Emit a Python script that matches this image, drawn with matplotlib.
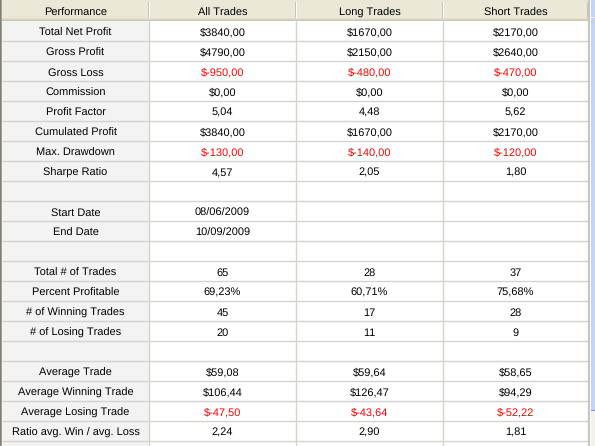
import matplotlib
matplotlib.use("Agg")
import matplotlib.pyplot as plt
from matplotlib.patches import Rectangle

plt.rcParams["text.hinting"] = "no_hinting"
plt.rcParams["text.hinting_factor"] = 1

W, H = 595, 446

headers = ["Performance", "All Trades", "Long Trades", "Short Trades"]
row_labels = ["Total Net Profit", "Gross Profit", "Gross Loss", "Commission", "Profit Factor",
              "Cumulated Profit", "Max. Drawdown", "Sharpe Ratio", "",
              "Start Date", "End Date", "",
              "Total # of Trades", "Percent Profitable", "# of Winning Trades", "# of Losing Trades", "",
              "Average Trade", "Average Winning Trade", "Average Losing Trade", "Ratio avg. Win / avg. Loss"]
all_trades = ["$3840,00", "$4790,00", "$-950,00", "$0,00", "5,04", "$3840,00", "$-130,00", "4,57", "",
              "08/06/2009", "10/09/2009", "",
              "65", "69,23%", "45", "20", "",
              "$59,08", "$106,44", "$-47,50", "2,24"]
long_trades = ["$1670,00", "$2150,00", "$-480,00", "$0,00", "4,48", "$1670,00", "$-140,00", "2,05", "",
               "", "", "",
               "28", "60,71%", "17", "11", "",
               "$59,64", "$126,47", "$-43,64", "2,90"]
short_trades = ["$2170,00", "$2640,00", "$-470,00", "$0,00", "5,62", "$2170,00", "$-120,00", "1,80", "",
                "", "", "",
                "37", "75,68%", "28", "9", "",
                "$58,65", "$94,29", "$-52,22", "1,81"]

col_edges = [2, 149, 296, 443, 588]
header_h = 21
row_h = 20

fig = plt.figure(figsize=(W / 100, H / 100), dpi=100)
ax = fig.add_axes([0, 0, 1, 1])
ax.set_xlim(0, W)
ax.set_ylim(H, 0)
ax.axis("off")

font = dict(family=["Liberation Sans", "DejaVu Sans"], fontsize=7.7)

def rect(x0, y0, x1, y1, color, z=1):
    ax.add_patch(Rectangle((x0, y0), x1 - x0, y1 - y0, facecolor=color, edgecolor="none",
                           linewidth=0, zorder=z))

# background
rect(0, 0, W, H, "#FFFFFF", 0)
# first column background
rect(col_edges[0], header_h, col_edges[1], H, "#F3F3F3", 1)
# header
rect(col_edges[0], 0, col_edges[-1], header_h, "#EBE8D8", 2)
rect(col_edges[0], header_h - 3, col_edges[-1], header_h - 2, "#E2DFCF", 3)
rect(col_edges[0], header_h - 2, col_edges[-1], header_h - 1, "#D6D2C2", 3)
rect(col_edges[0], header_h - 1, col_edges[-1], header_h, "#CBC7B8", 3)
for x in col_edges[1:]:
    rect(x - 1, 2, x, header_h - 3, "#C8C4B4", 3)
    rect(x, 2, x + 1, header_h - 3, "#FFFFFF", 3)

# grid lines
n_rows = len(row_labels)
for i in range(n_rows + 1):
    y = header_h + row_h * (i + 1) - 1
    ax.plot([col_edges[0], col_edges[-1]], [y + 0.5, y + 0.5], color="#D6D3CE", lw=1, zorder=4,
            solid_capstyle="butt")
for x in col_edges[1:]:
    ax.plot([x - 0.5, x - 0.5], [header_h, H], color="#D6D3CE", lw=1, zorder=4,
            solid_capstyle="butt")

# left border
rect(0, 0, 1, H, "#7F7D73", 5)
rect(1, 0, 2, H, "#A6A496", 5)

# scrollbar area
rect(588, 0, 590, H, "#C9C7BA", 5)
rect(590, 0, 591, H, "#FFFFFF", 5)
rect(591, 0, W, H, "#F3F1EC", 5)
rect(591, 0, W, 17, "#C3D4FC", 6)
rect(591, 18, W, 410, "#C1D3FB", 6)
rect(591, 410, W, 411, "#7F9DB9", 6)

# header text
for j, h in enumerate(headers):
    cx = (col_edges[j] + col_edges[j + 1]) / 2
    ax.text(cx, 16, h, ha="center", va="baseline", color="#000000", zorder=7, **font)

cols = [row_labels, all_trades, long_trades, short_trades]
for i in range(n_rows):
    by = header_h + row_h * i + 15
    for j, col in enumerate(cols):
        val = col[i]
        if not val:
            continue
        cx = (col_edges[j] + col_edges[j + 1]) / 2
        color = "#FF0000" if (j > 0 and val.startswith("$-")) else "#000000"
        ax.text(cx, by, val, ha="center", va="baseline", color=color, zorder=7, **font)

fig.savefig("out.png", dpi=100)
